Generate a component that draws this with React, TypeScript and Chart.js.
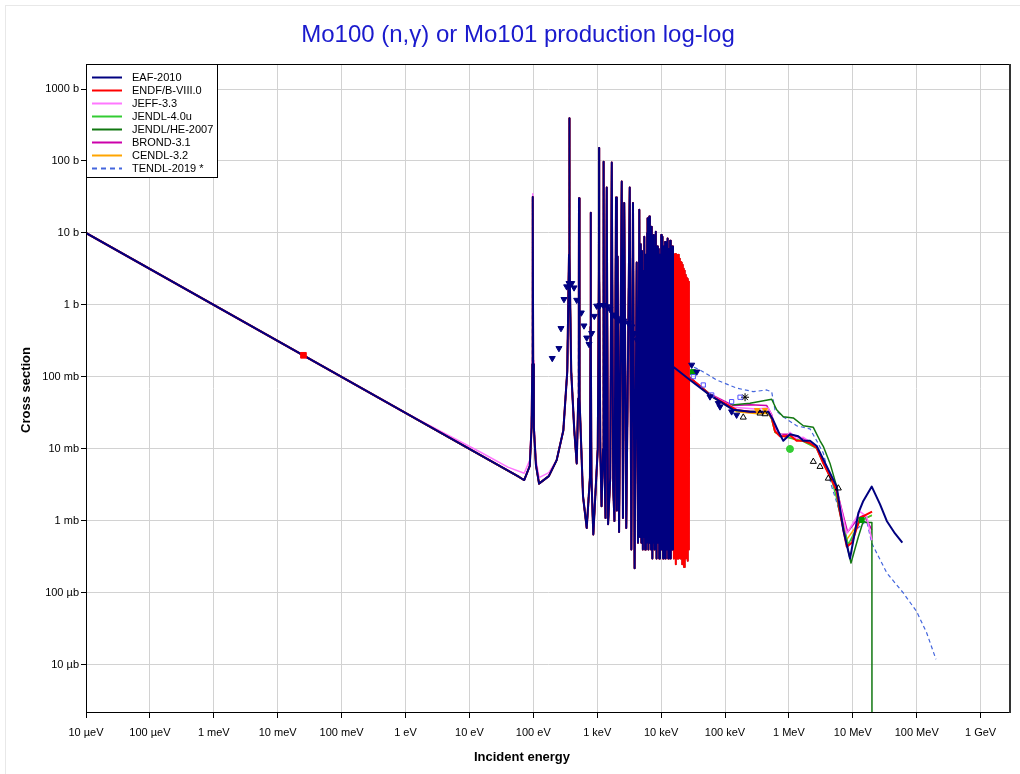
import React, { useEffect, useRef } from "react";
import { Chart, registerables } from "chart.js";

Chart.register(...registerables);

type P = [number, number];

const TITLE = "Mo100 (n,γ) or Mo101 production log-log";
const X_TITLE = "Incident energy";
const Y_TITLE = "Cross section";

const X_TICK_VALUES = [1e-5, 1e-4, 1e-3, 1e-2, 1e-1, 1, 10, 100, 1e3, 1e4, 1e5, 1e6, 1e7, 1e8, 1e9];
const X_TICK_LABELS = ["10 µeV", "100 µeV", "1 meV", "10 meV", "100 meV", "1 eV", "10 eV", "100 eV", "1 keV", "10 keV", "100 keV", "1 MeV", "10 MeV", "100 MeV", "1 GeV"];
const Y_TICK_VALUES = [1e3, 1e2, 10, 1, 0.1, 0.01, 1e-3, 1e-4, 1e-5];
const Y_TICK_LABELS = ["1000 b", "100 b", "10 b", "1 b", "100 mb", "10 mb", "1 mb", "100 µb", "10 µb"];

const LEGEND_NAMES = ["EAF-2010", "ENDF/B-VIII.0", "JEFF-3.3", "JENDL-4.0u", "JENDL/HE-2007", "BROND-3.1", "CENDL-3.2", "TENDL-2019 *"];
const LEGEND_COLORS = ["#000080", "#ff0000", "#ff77ff", "#33cc33", "#117711", "#cc00aa", "#ffa500", "#4466dd"];

// energies in eV, cross sections in barns
const THERMAL: P[] = [[1e-5, 10], [60, 0.00408]];
const RES_A: P[] = [[72, 0.0037], [88, 0.0058], [94, 0.02], [96.5, 0.15], [98, 31.6], [99.5, 0.15], [102, 0.02], [110, 0.006], [123, 0.0033], [175, 0.0042]];
const JEFF_LOW: P[] = [[1e-5, 10], [1, 0.0316], [15, 0.009], [40, 0.0056], [72, 0.0046], [88, 0.007], [94, 0.024], [96.5, 0.17], [98, 35], [99.5, 0.17], [102, 0.024], [110, 0.0072], [123, 0.004], [175, 0.0047]];
const RES_B: P[] = [
  [232, 0.007], [295, 0.018], [340, 0.12], [362, 5], [366, 392], [370, 5], [392, 0.12], [438, 0.018], [478, 0.0063],
  [505, 0.05], [516, 2], [519, 30.4], [522, 2], [535, 0.05], [600, 0.0022], [685, 0.0008], [770, 0.004], [787, 0.5],
  [791, 19.1], [795, 0.5], [812, 0.004], [869, 0.00065], [1020, 0.01], [1065, 3], [1070, 152], [1075, 3], [1120, 0.01],
  [1170, 0.0016], [1235, 0.01], [1260, 98], [1290, 0.008], [1350, 0.0011], [1410, 43], [1480, 0.0009], [1600, 0.004],
  [1690, 95], [1780, 0.003], [1860, 0.001], [1970, 31], [2030, 0.0014], [2090, 4.7], [2200, 0.0007], [2420, 52],
  [2530, 0.0011], [2650, 26], [2850, 0.0008], [3230, 43], [3420, 0.0004], [3630, 26], [3850, 0.00022], [4150, 3.9],
  [4350, 0.0005],
];
const DENSE: P[] = [
  [4560, 21], [4680, 0.0006], [4800, 7], [4920, 0.0005], [5020, 5.6], [5180, 0.0004], [5300, 3], [5380, 0.0006],
  [5460, 8.9], [5620, 0.0004], [5780, 5], [5920, 0.0005], [6050, 10], [6120, 0.0007], [6170, 16], [6330, 0.0004],
  [6530, 17], [6680, 0.0005], [6830, 7.5], [6970, 0.0004], [7130, 12.2], [7300, 0.0003], [7480, 6], [7600, 0.0005],
  [7740, 9.4], [7900, 0.0004], [8100, 5], [8200, 0.0006], [8320, 10.4], [8500, 0.0003], [8700, 6.5], [8900, 0.0005],
  [9170, 6], [9350, 0.0003], [9600, 5], [9800, 0.0005], [10050, 9.4], [10250, 0.0004], [10500, 8.9], [10750, 0.0003],
  [11000, 6.5], [11250, 0.0005], [11550, 7.5], [11800, 0.0003], [12100, 5.5], [12350, 0.0004], [12650, 8.4],
  [12950, 0.0003], [13250, 6], [13550, 0.0005], [13850, 7.8], [14150, 0.0003], [14500, 5], [14800, 0.0004],
  [15100, 6.5], [15350, 0.0004],
];
const RED_EXTRA: P[] = [
  [15600, 5], [15850, 0.0003], [16100, 4.7], [16350, 0.0004], [16600, 5.1], [16850, 0.00025], [17100, 4.8],
  [17350, 0.0004], [17600, 5], [17850, 0.0003], [18100, 4.6], [18400, 0.0004], [18700, 5], [19000, 0.0003],
  [19300, 4.4], [19600, 0.00035], [19900, 4], [20200, 0.0003], [20500, 3.8], [20800, 0.0004], [21100, 3.9],
  [21450, 0.00025], [21800, 3.6], [22150, 0.0004], [22500, 3.2], [22850, 0.00023], [23200, 3], [23550, 0.0004],
  [23900, 2.6], [24300, 0.0003], [24700, 2.4], [25100, 0.0004], [25500, 2.3], [25900, 0.00028], [26300, 2.2],
  [26700, 0.0004], [27100, 2.1], [27300, 0.0006],
];

const EAF_FAST: P[] = [[15500, 0.139], [28300, 0.091], [58200, 0.056], [135000, 0.035], [246000, 0.033], [476000, 0.033], [570000, 0.025], [683000, 0.0175], [817000, 0.013], [1.04e6, 0.016], [1.4e6, 0.015], [1.68e6, 0.013], [2.14e6, 0.013], [2.72e6, 0.011], [3.91e6, 0.0057], [5.6e6, 0.003], [7.1e6, 0.00075], [9.04e6, 0.0003], [12.2e6, 0.00128], [14.6e6, 0.0019], [19.8e6, 0.003], [26.7e6, 0.0017], [34e6, 0.001], [45.7e6, 0.00067], [59.6e6, 0.0005]];
const ENDF_FAST: P[] = [[27400, 0.1], [40600, 0.075], [58200, 0.056], [152000, 0.0348], [246000, 0.033], [476000, 0.033], [538000, 0.027], [606000, 0.0176], [726000, 0.015], [869000, 0.015], [1.04e6, 0.0155], [1.32e6, 0.013], [1.68e6, 0.013], [2.14e6, 0.012], [2.72e6, 0.0103], [3.45e6, 0.0063], [4.68e6, 0.0037], [5.6e6, 0.0026], [6.31e6, 0.0013], [8.02e6, 0.00044], [9.7e6, 0.0005], [13e6, 0.0011], [20e6, 0.00135]];
const JEFF_FAST: P[] = [[27400, 0.1], [58200, 0.057], [135000, 0.038], [300000, 0.036], [476000, 0.037], [538000, 0.029], [606000, 0.019], [726000, 0.016], [900000, 0.0145], [1.04e6, 0.017], [1.3e6, 0.014], [1.68e6, 0.0145], [2.14e6, 0.0125], [2.72e6, 0.0105], [3.45e6, 0.0068], [4.68e6, 0.0038], [5.93e6, 0.0022], [8.02e6, 0.00067], [13e6, 0.00135], [16.5e6, 0.00115], [19.9e6, 0.00054]];
const JENDL4_FAST: P[] = [[27400, 0.1], [58200, 0.055], [152000, 0.034], [476000, 0.032], [538000, 0.026], [606000, 0.017], [869000, 0.0148], [1.68e6, 0.0128], [2.72e6, 0.0102], [3.45e6, 0.0064], [4.68e6, 0.0037], [6.31e6, 0.0014], [8.5e6, 0.00047], [13e6, 0.001], [19.9e6, 0.0012]];
const JENDLHE_FAST: P[] = [[27400, 0.1], [58200, 0.058], [106000, 0.04], [246000, 0.043], [538000, 0.049], [643000, 0.035], [817000, 0.028], [1.17e6, 0.027], [1.68e6, 0.021], [2.41e6, 0.02], [3.07e6, 0.013], [3.45e6, 0.0109], [4.4e6, 0.0063], [5.6e6, 0.003], [5.93e6, 0.0016], [9.37e6, 0.00026], [12.2e6, 0.0006], [14.6e6, 0.001], [16.1e6, 0.00095], [19.9e6, 0.00095], [20e6, 1e-9]];
const BROND_FAST: P[] = [[27400, 0.1], [58200, 0.058], [135000, 0.04], [246000, 0.041], [450000, 0.04], [538000, 0.03], [606000, 0.02], [726000, 0.016], [1.04e6, 0.016], [1.68e6, 0.014], [2.72e6, 0.011], [3.45e6, 0.007], [4.68e6, 0.004], [5.93e6, 0.0022], [8.3e6, 0.0007], [12.2e6, 0.0011], [15e6, 0.0012], [19.9e6, 0.00075]];
const CENDL_FAST: P[] = [[27400, 0.1], [58200, 0.055], [152000, 0.033], [300000, 0.031], [476000, 0.031], [538000, 0.026], [606000, 0.017], [869000, 0.0148], [1.68e6, 0.0128], [2.72e6, 0.0104], [3.45e6, 0.0065], [4.68e6, 0.0038], [5.93e6, 0.0023], [8.02e6, 0.00055], [13e6, 0.001], [19.9e6, 0.0012]];
const TENDL_FAST: P[] = [[27400, 0.147], [40600, 0.125], [74000, 0.091], [152000, 0.07], [277000, 0.0625], [450000, 0.066], [538000, 0.062], [606000, 0.035], [817000, 0.028], [1.32e6, 0.021], [2.14e6, 0.019], [2.72e6, 0.013], [3.45e6, 0.0088], [4.68e6, 0.003], [6.5e6, 0.0012], [8.5e6, 0.00044], [12e6, 0.0008], [16.5e6, 0.001], [19.8e6, 0.00049], [34e6, 0.00019], [61.7e6, 0.0001], [100e6, 0.000055], [143e6, 0.000028], [200e6, 0.000012]];

// measured points
const EXP_LOW_TRI: P[] = [[198, 0.182], [252, 0.25], [271, 0.474], [302, 1.2], [333, 1.8], [362, 2.0], [399, 2.0], [434, 1.74], [478, 1.17], [564, 0.78], [621, 0.515], [685, 0.35], [745, 0.285], [820, 0.405], [901, 0.7], [982, 0.97], [1107, 0.99], [1247, 0.99], [1440, 0.95], [1585, 0.87], [1786, 0.73], [2018, 0.65], [2275, 0.62], [2626, 0.6], [3069, 0.56], [3467, 0.5], [3811, 0.405], [4150, 0.33]];
const EXP_FAST_TRI: P[] = [[30100, 0.147], [36100, 0.118], [58200, 0.0533], [78500, 0.0431], [83500, 0.0387], [127000, 0.033], [152000, 0.0297]];
const EXP_RECT: P[] = [[31900, 0.101], [45700, 0.0774], [61900, 0.0562], [127000, 0.0454], [172000, 0.0523]];
const EXP_BLACK_TRI: P[] = [[193000, 0.0275], [353000, 0.0313], [423000, 0.0306], [2.41e6, 0.00667], [3.07e6, 0.00568], [4.14e6, 0.0039], [5.93e6, 0.00285]];
const EXP_STAR: P[] = [[206000, 0.0523]];
const EXP_ORANGE: P[] = [[317000, 0.0348], [423000, 0.0348]];
const EXP_GREEN_CIRCLE: P[] = [[1.04e6, 0.01]];
const EXP_GREEN_SQUARE: P[] = [[31500, 0.117], [13.7e6, 0.00103]];
const EXP_THERMAL: P[] = [[0.0253, 0.2]];

const FONT = '"Liberation Sans", Arial, Helvetica, sans-serif';

const toXY = (a: P[]) => a.map(([x, y]) => ({ x, y }));

const LIB_DATA: P[][] = [
  [...THERMAL, ...RES_A, ...RES_B, ...DENSE, ...EAF_FAST],
  [...THERMAL, ...RES_A, ...RES_B, ...DENSE, ...RED_EXTRA, ...ENDF_FAST],
  [...JEFF_LOW, ...RES_B, ...DENSE, ...RED_EXTRA, ...JEFF_FAST],
  [...THERMAL, ...RES_A, ...RES_B, ...DENSE, ...RED_EXTRA, ...JENDL4_FAST],
  [...THERMAL, ...RES_A, ...RES_B, ...DENSE, ...RED_EXTRA, ...JENDLHE_FAST],
  [...THERMAL, ...RES_A, ...RES_B, ...DENSE, ...RED_EXTRA, ...BROND_FAST],
  [...THERMAL, ...RES_A, ...RES_B, ...DENSE, ...RED_EXTRA, ...CENDL_FAST],
  [...THERMAL, ...RES_A, ...RES_B, ...DENSE, ...RED_EXTRA, ...TENDL_FAST],
];
const LIB_WIDTHS = [2, 2, 1.5, 1.5, 1.5, 1.5, 1.5, 1.2];

const overlayPlugin = {
  id: "overlay",
  afterDatasetsDraw(chart: any) {
    const { ctx, chartArea: a } = chart;
    ctx.save();
    ctx.strokeStyle = "#000";
    ctx.lineWidth = 1;
    ctx.setLineDash([]);
    ctx.strokeRect(a.left + 0.5, a.top + 0.5, a.right - a.left - 1, a.bottom - a.top - 1);
    ctx.fillStyle = "#333";
    ctx.fillRect(a.right - 2, a.top, 2, a.bottom - a.top);

    // legend
    const lx = a.left + 0.5;
    const ly = a.top + 0.5;
    ctx.fillStyle = "#fff";
    ctx.fillRect(lx, ly, 131, 113);
    ctx.strokeStyle = "#000";
    ctx.strokeRect(lx, ly, 131, 113);
    ctx.font = `11px ${FONT}`;
    ctx.textBaseline = "middle";
    ctx.textAlign = "left";
    LEGEND_NAMES.forEach((name, i) => {
      const y = Math.round(a.top + 12.5 + i * 13.0) + 0.5;
      ctx.strokeStyle = LEGEND_COLORS[i];
      ctx.lineWidth = 2;
      ctx.setLineDash(i === 7 ? [5, 4] : []);
      ctx.beginPath();
      ctx.moveTo(a.left + 6, y);
      ctx.lineTo(a.left + 36, y);
      ctx.stroke();
      ctx.setLineDash([]);
      ctx.fillStyle = "#000";
      ctx.fillText(name, a.left + 46, y);
    });

    // titles
    ctx.fillStyle = "#1a1acd";
    ctx.font = `24px ${FONT}`;
    ctx.textAlign = "center";
    ctx.textBaseline = "alphabetic";
    ctx.fillText(TITLE, 518, 42);

    ctx.fillStyle = "#000";
    ctx.font = `bold 13px ${FONT}`;
    ctx.textBaseline = "middle";
    ctx.fillText(X_TITLE, 522, 757);
    ctx.translate(26, 390);
    ctx.rotate(-Math.PI / 2);
    ctx.fillText(Y_TITLE, 0, 0);
    ctx.restore();
  },
};

export default function App() {
  const ref = useRef<HTMLCanvasElement | null>(null);

  useEffect(() => {
    if (!ref.current) return;
    const lines = LIB_DATA.map((d, i) => ({
      type: "line" as const,
      label: LEGEND_NAMES[i],
      data: toXY(d),
      borderColor: LEGEND_COLORS[i],
      backgroundColor: LEGEND_COLORS[i],
      borderWidth: LIB_WIDTHS[i],
      borderDash: i === 7 ? [4, 3] : [],
      borderJoinStyle: "round" as const,
      pointRadius: 0,
      tension: 0,
      fill: false,
    }));
    const marker = (data: P[], style: string, color: string, fillColor: string, r: number, rot = 0) => ({
      type: "line" as const,
      label: "",
      data: toXY(data),
      showLine: false,
      pointStyle: style,
      pointRadius: r,
      pointRotation: rot,
      pointBorderColor: color,
      pointBackgroundColor: fillColor,
      pointBorderWidth: 1,
      borderColor: color,
      backgroundColor: fillColor,
    });
    const markers = [
      marker(EXP_LOW_TRI, "triangle", "#000080", "#000080", 3.5, 180),
      marker(EXP_FAST_TRI, "triangle", "#000080", "#000080", 3.5, 180),
      marker(EXP_RECT, "rect", "#5050ff", "rgba(255,255,255,0)", 3),
      marker(EXP_BLACK_TRI, "triangle", "#000", "rgba(255,255,255,0)", 3.5),
      marker(EXP_STAR, "star", "#000", "#000", 4),
      marker(EXP_ORANGE, "triangle", "#ff9900", "#ff9900", 3, 180),
      marker(EXP_GREEN_CIRCLE, "circle", "#33cc33", "#33cc33", 3.5),
      marker(EXP_GREEN_SQUARE, "rect", "#009900", "#009900", 3.5),
      marker(EXP_THERMAL, "rect", "#ff0000", "#ff0000", 4),
    ];

    const chart = new Chart(ref.current, {
      type: "line",
      data: { datasets: [...markers, ...lines] as any },
      options: {
        animation: false,
        responsive: false,
        devicePixelRatio: 1,
        parsing: false,
        events: [],
        layout: { padding: { top: 64, right: 9, left: 0, bottom: 0 } },
        plugins: {
          legend: { display: false },
          title: { display: false },
          tooltip: { enabled: false },
        },
        scales: {
          x: {
            type: "logarithmic",
            min: 1e-5,
            max: 2.99e9,
            afterFit: (s: any) => {
              s.height = 61;
            },
            afterBuildTicks: (s: any) => {
              s.ticks = X_TICK_VALUES.map((v) => ({ value: v }));
            },
            ticks: {
              autoSkip: false,
              maxRotation: 0,
              minRotation: 0,
              padding: 8,
              color: "#000",
              font: { family: FONT, size: 11 },
              callback: (_v: any, i: number) => X_TICK_LABELS[i],
            },
            grid: { color: "#d2d2d2", tickColor: "#000", tickLength: 5, lineWidth: 1 },
            border: { display: false },
          },
          y: {
            type: "logarithmic",
            min: 2.15e-6,
            max: 2225,
            afterFit: (s: any) => {
              s.width = 86;
            },
            afterBuildTicks: (s: any) => {
              s.ticks = Y_TICK_VALUES.map((v) => ({ value: v }));
            },
            ticks: {
              autoSkip: false,
              padding: 2,
              color: "#000",
              font: { family: FONT, size: 11 },
              callback: (_v: any, i: number) => Y_TICK_LABELS[i],
            },
            grid: { color: "#d2d2d2", tickColor: "#000", tickLength: 5, lineWidth: 1 },
            border: { display: false },
          },
        },
      } as any,
      plugins: [overlayPlugin],
    });
    return () => chart.destroy();
  }, []);

  return (
    <div style={{ position: "absolute", left: 0, top: 0, width: 1020, height: 774, background: "#fff" }}>
      <div
        style={{
          position: "absolute",
          left: 5,
          top: 5,
          width: 1015,
          height: 769,
          borderTop: "1px solid #e8e8e8",
          borderLeft: "1px solid #e8e8e8",
          boxSizing: "border-box",
        }}
      />
      <canvas
        ref={ref}
        width={1020}
        height={774}
        style={{ position: "absolute", left: 0, top: 0, width: 1020, height: 774 }}
      />
    </div>
  );
}
